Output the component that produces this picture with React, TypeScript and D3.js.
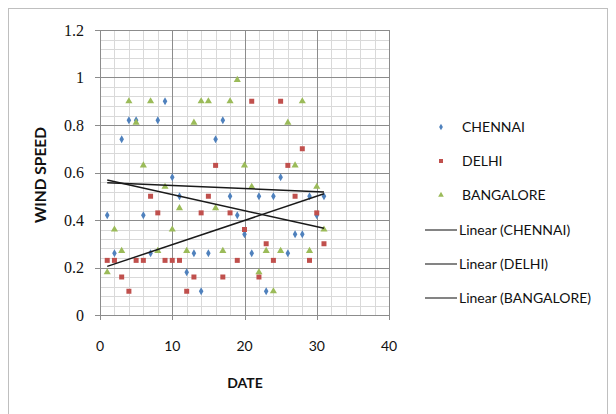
import React from "react";
import * as d3 from "d3";

const days = d3.range(1, 32);
const chennai = [0.42, 0.26, 0.74, 0.82, 0.82, 0.42, 0.26, 0.82, 0.90, 0.58, 0.50, 0.18, 0.26, 0.10, 0.26, 0.74, 0.82, 0.50, 0.42, 0.34, 0.26, 0.50, 0.10, 0.50, 0.58, 0.26, 0.34, 0.34, 0.50, 0.42, 0.50];
const delhi = [0.23, 0.23, 0.16, 0.10, 0.23, 0.23, 0.50, 0.43, 0.23, 0.23, 0.23, 0.10, 0.16, 0.43, 0.50, 0.63, 0.16, 0.43, 0.23, 0.36, 0.90, 0.16, 0.30, 0.23, 0.90, 0.63, 0.50, 0.70, 0.23, 0.43, 0.30];
const bangalore = [0.18, 0.36, 0.27, 0.90, 0.81, 0.63, 0.90, 0.27, 0.54, 0.36, 0.45, 0.27, 0.81, 0.90, 0.90, 0.45, 0.27, 0.90, 0.99, 0.63, 0.54, 0.18, 0.27, 0.10, 0.27, 0.81, 0.63, 0.90, 0.27, 0.54, 0.36];
const seriesNames = ["CHENNAI", "DELHI", "BANGALORE"];
const seriesColors = ["#4F81BD", "#C0504D", "#9BBB59"];
const xTicks = [0, 10, 20, 30, 40];
const yTicks = [0, 0.2, 0.4, 0.6, 0.8, 1, 1.2];

function fit(xs: number[], ys: number[]) {
  const mx = d3.mean(xs)!;
  const my = d3.mean(ys)!;
  let num = 0, den = 0;
  xs.forEach((x, i) => { num += (x - mx) * (ys[i] - my); den += (x - mx) * (x - mx); });
  const b = num / den;
  return { a: my - b * mx, b };
}

export default function App() {
  const x = d3.scaleLinear().domain([0, 40]).range([100, 389]);
  const y = d3.scaleLinear().domain([0, 1.2]).range([315, 30]);
  const data = [chennai, delhi, bangalore];
  const xMinor = d3.range(0, 40.001, 2);
  const yMinor = d3.range(0, 1.2001, 0.04);
  const sym = [d3.symbolDiamond, d3.symbolSquare, d3.symbolTriangle];
  const sizes = [18, 25, 22];
  const legSizes = [12, 16, 14];
  const line = d3.line<[number, number]>().x(d => x(d[0])).y(d => y(d[1]));
  const sans = "Lato, 'Open Sans', sans-serif";
  const legendY = [127, 161, 195, 230, 264, 298];

  return (
    <svg width={616} height={414} style={{ position: "absolute", left: 0, top: 0, background: "#fff" }}>
      <rect x={8.5} y={8.5} width={599} height={410} fill="none" stroke="#bfbfbf" />
      {xMinor.map((v, i) => (
        <line key={"xm" + i} x1={Math.round(x(v)) + 0.5} x2={Math.round(x(v)) + 0.5} y1={30} y2={315} stroke="#d9d9d9" />
      ))}
      {yMinor.map((v, i) => (
        <line key={"ym" + i} x1={100} x2={389} y1={Math.round(y(v)) + 0.5} y2={Math.round(y(v)) + 0.5} stroke="#d9d9d9" />
      ))}
      {xTicks.map((v, i) => (
        <line key={"xM" + i} x1={Math.round(x(v)) + 0.5} x2={Math.round(x(v)) + 0.5} y1={30} y2={320} stroke="#8c8c8c" />
      ))}
      {yTicks.map((v, i) => (
        <line key={"yM" + i} x1={95} x2={389} y1={Math.round(y(v)) + 0.5} y2={Math.round(y(v)) + 0.5} stroke="#8c8c8c" />
      ))}
      {yTicks.map((v, i) => (
        <text key={"yl" + i} x={84} y={y(v)} dy="0.35em" textAnchor="end" fontFamily="'Liberation Serif', serif" fontSize={16} fill="#111">
          {String(v)}
        </text>
      ))}
      {xTicks.map((v, i) => (
        <text key={"xl" + i} x={x(v)} y={346} dy="0.35em" textAnchor="middle" fontFamily={sans} fontSize={14} fill="#111">
          {String(v)}
        </text>
      ))}
      <text x={245} y={383} dy="0.35em" textAnchor="middle" fontFamily={sans} fontWeight="bold" fontSize={14} fill="#111">DATE</text>
      <text x={41} y={175} transform="rotate(-90 41 175)" dy="0.35em" textAnchor="middle" fontFamily={sans} fontWeight="bold" fontSize={15.5} fill="#111">WIND SPEED</text>
      {data.map((vals, s) =>
        vals.map((v, i) => (
          <path key={s + "-" + i} d={d3.symbol().type(sym[s]).size(sizes[s])()!} transform={`translate(${x(days[i])},${y(v)})`} fill={seriesColors[s]} />
        ))
      )}
      {data.map((vals, s) => {
        const f = fit(days, vals);
        const pts: [number, number][] = [[1, f.a + f.b * 1], [31, f.a + f.b * 31]];
        return <path key={"t" + s} d={line(pts)!} stroke="#1a1a1a" strokeWidth={1.5} fill="none" />;
      })}
      {seriesNames.map((n, s) => (
        <g key={"lg" + s}>
          <path d={d3.symbol().type(sym[s]).size(legSizes[s])()!} transform={`translate(441,${legendY[s]})`} fill={seriesColors[s]} />
          <text x={462} y={legendY[s]} dy="0.35em" fontFamily={sans} fontSize={14} fill="#111">{n}</text>
        </g>
      ))}
      {seriesNames.map((n, s) => (
        <g key={"ll" + s}>
          <line x1={425} x2={457} y1={legendY[s + 3]} y2={legendY[s + 3]} stroke="#333" strokeWidth={1.2} />
          <text x={459} y={legendY[s + 3]} dy="0.35em" fontFamily={sans} fontSize={14} fill="#111">{`Linear (${n})`}</text>
        </g>
      ))}
    </svg>
  );
}
